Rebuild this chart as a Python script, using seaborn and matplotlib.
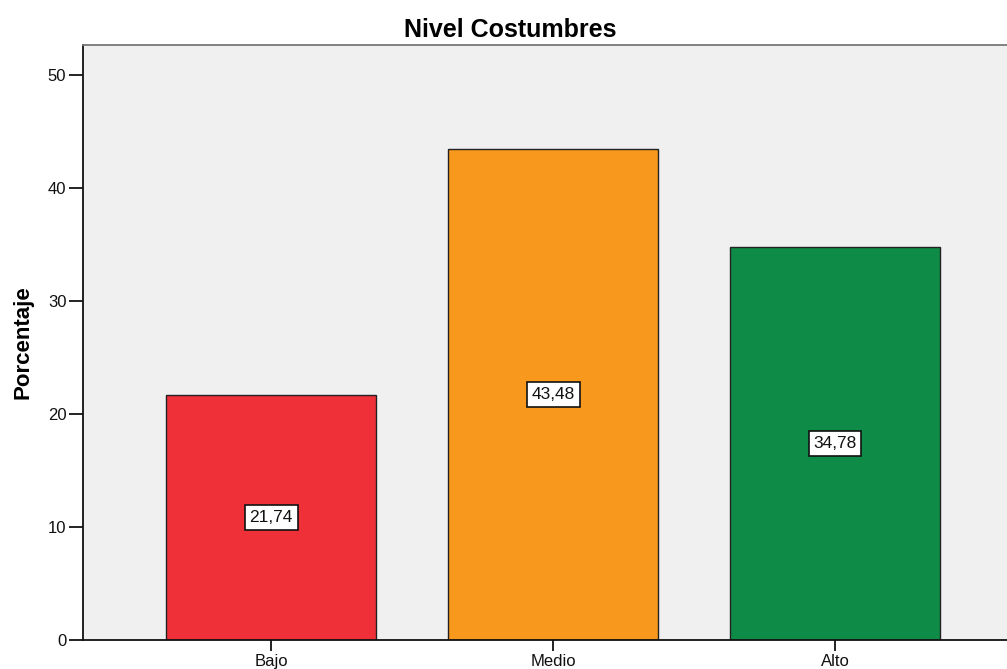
import matplotlib
matplotlib.use('Agg')
import matplotlib.pyplot as plt
import seaborn as sns

niveles = ['Bajo', 'Medio', 'Alto']
porcentaje = [21.74, 43.48, 34.78]
colores = ['#EF3039', '#F8981D', '#0E8C47']

sns.set_style('white')
plt.rcParams['font.family'] = ['Liberation Sans', 'DejaVu Sans']
plt.rcParams['text.color'] = '#111111'
plt.rcParams['axes.labelcolor'] = '#111111'

fig = plt.figure(figsize=(10.07, 6.69), dpi=100)
ax = fig.add_axes([83/1007, 29/669, 1 - 83/1007, (640-45)/669])
ax.set_facecolor('#F0F0F0')

sns.barplot(x=niveles, y=porcentaje, hue=niveles, palette=colores, legend=False,
            width=0.746, edgecolor='#222222', linewidth=1.0, saturation=1, ax=ax)

# etiquetas en el centro de cada barra, con coma decimal
etiquetas = [f'{v:.2f}'.replace('.', ',') for v in porcentaje]
for cont, et in zip(ax.containers, [[e] for e in etiquetas]):
    txts = ax.bar_label(cont, labels=et, label_type='center', fontsize=12.5, color='#111111')
    for t in txts:
        t.set_bbox(dict(facecolor='white', edgecolor='#111111', linewidth=1.2, pad=3.5))

ax.set_ylim(0, 52.7)
ax.set_xlim(-0.667, 2.61)
ax.set_yticks([0, 10, 20, 30, 40, 50])
ax.tick_params(axis='y', direction='out', length=10, width=1.3, labelsize=12, colors='#111111', pad=2)
ax.tick_params(axis='x', direction='out', length=8, width=1.3, labelsize=12, colors='#111111', pad=2)
ax.tick_params(left=True, bottom=True)

ax.set_xlabel('')
ax.set_ylabel('Porcentaje', fontsize=16, fontweight='bold', labelpad=10, color='black')

for s in ['left', 'bottom']:
    ax.spines[s].set_color('#111111')
    ax.spines[s].set_linewidth(1.3)
ax.spines['top'].set_color('#777777')
ax.spines['top'].set_linewidth(1.3)
ax.spines['right'].set_visible(False)

ax.set_title('Nivel Costumbres', fontsize=18, fontweight='bold', x=0.462, pad=6, color='black')

fig.savefig('out.png', dpi=100)
